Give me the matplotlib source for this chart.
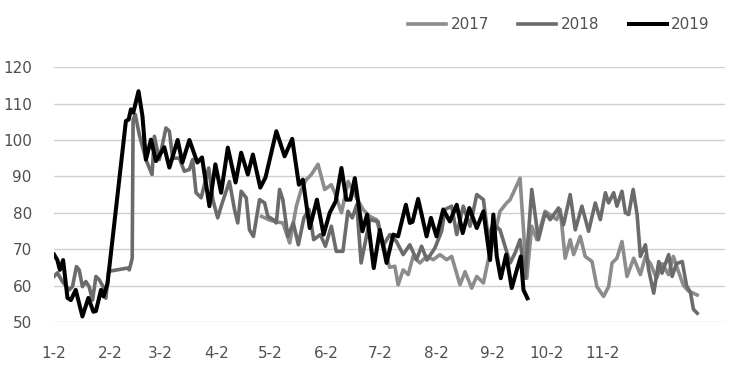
import numpy as np
import matplotlib
matplotlib.use("Agg")
import matplotlib.pyplot as plt

plt.rcParams['font.family'] = ['Liberation Sans Narrow', 'DejaVu Sans']

# x = days counted from Jan 2, tick labels on the 2nd of every month
tick_days = [0, 31, 59, 90, 120, 151, 181, 212, 243, 273, 304]
tick_labels = ['1-2', '2-2', '3-2', '4-2', '5-2', '6-2', '7-2', '8-2', '9-2', '10-2', '11-2']

days_2017 = [115, 119.4, 123.2, 126.8, 130.6, 134.3, 137, 139.8, 142.6, 146.3, 150, 153.7, 155.6,
             159.3, 163, 167.6, 171.3, 175, 178.7, 182.2, 186, 188.9, 190.7, 193.5, 196.3, 199,
             202.8, 206.5, 210.2, 213.9, 217.6, 220.4, 225, 227.8, 231.5, 234.3, 238, 240.7,
             243.3, 247.2, 250.9, 252.8, 258.3, 262, 264.8, 267.6, 272.2, 278.7, 280.6, 283.3,
             286.1, 288, 291.7, 294.4, 298.2, 300.9, 304.6, 307.4, 309.3, 312, 314.8, 317.6,
             321.3, 325, 327.8, 330.6, 333.9, 337.2, 340.6, 343.3, 346, 348.9, 351.7, 356.5]
vals_2017 = [79, 78, 77.5, 77.2, 71.7, 81.8, 86.4, 89.1, 90.5, 93.3, 86.4, 87.7, 85.5,
             80, 88.6, 84.1, 80.9, 79, 78.1, 72, 65, 65.3, 60.2, 64.3, 63, 68,
             66.2, 68, 67.1, 68.5, 67.1, 68, 60.2, 63.8, 59.3, 62.5, 60.7, 67.1,
             72, 80.4, 82.7, 83.6, 89.5, 62, 76.3, 72.6, 80.4, 78.1, 80.9, 67.5,
             72.6, 68.5, 73.5, 68, 66.6, 59.7, 57, 59.7, 66.2, 67.5, 72.1, 62.5,
             67.5, 63, 68, 66, 62, 66, 63, 68, 64, 60, 58.5, 57.4]

days_2018 = [0, 1.8, 4.6, 8.3, 10.2, 12.4, 13.9, 15.7, 17.6, 19.4, 21.3, 23.2, 25, 27.2, 28.7,
             30.2, 40.7, 41.7, 43.3, 43.8, 45, 47.2, 50.9, 54.3, 55.6, 58.3, 62, 63.9, 65.7,
             69.4, 72.2, 75, 76.8, 78.7, 81.5, 85.7, 88, 90.7, 93.2, 97.2, 100, 101.8, 103.7,
             106.5, 108.3, 110.5, 113.9, 116.7, 118.5, 121.5, 123.2, 125, 126.8, 129.6, 132.6,
             135.4, 138.5, 141.3, 143.9, 147.6, 150.4, 153.7, 156.4, 160.1, 162.9, 165.3,
             167.8, 170.2, 175, 179.6, 182.2, 186.1, 189.8, 193.5, 197.2, 200.9, 203.7,
             206.7, 211.1, 214.8, 216.7, 220.4, 223.2, 226.8, 230.6, 234.3, 238, 240.7,
             243.3, 247.2, 250, 252.8, 255.6, 258.3, 261.1, 264.8, 268.5, 272.2, 275, 279.6,
             282.4, 286.1, 288.9, 292.6, 296.3, 300, 302.8, 305.6, 307.4, 310.2, 312, 314.8,
             316.7, 318.5, 321, 323.2, 325, 327.8, 329.6, 332.4, 335.2, 337, 340.7, 342.6,
             345, 348.2, 350.6, 352.8, 354.4, 356.5]
vals_2018 = [62.5, 63.5, 61.1, 58.8, 59.7, 65.2, 64.3, 59.7, 61.1, 59.7, 56, 62.5, 61.6, 59.7, 56.5,
             63.9, 64.8, 64.3, 67.5, 105.6, 107, 101.5, 94.6, 90.5, 101, 94.6, 103.3, 102.4, 95,
             95, 91.4, 91.9, 94.6, 85.5, 84.1, 92.3, 83.6, 78.6, 82.7, 88.6, 80.9, 77.2, 85.9,
             84.1, 75.3, 73.5, 83.6, 82.7, 79, 78.1, 77.2, 86.4, 83.6, 73.5, 77.2,
             71.2, 78.6, 80.9, 72.6, 74, 70.8, 76.3, 69.4, 69.4, 80.4, 78.6,
             82.2, 66.2, 78.1, 77.6, 70.8, 74, 72.1, 68.5, 71.2, 67.1, 70.8,
             67, 70.3, 74.9, 80.9, 81.8, 74, 81.8, 76.3, 85, 83.6, 73,
             77, 75.3, 70.8, 66.2, 69, 72.6, 62, 86.4, 72.6, 80, 78.1, 81.3,
             76.7, 85, 75.3, 81.8, 74.9, 82.7, 78.1, 85.5, 82.7, 85.5, 81.8, 85.9,
             80, 79.5, 86.4, 79.5, 68, 71.2, 64.3, 57.9, 66.6, 63.4, 68.5, 62.5,
             66, 66.6, 60, 58, 53.5, 52.4]

days_2019 = [0, 1.8, 3.2, 5, 7.4, 9.3, 12, 15.7, 19, 21.8, 23.2, 26, 27.4, 29.6, 39.8, 41.3,
             42.6, 43.9, 46.8, 49, 50.9, 53.7, 56.5, 61.1, 63.9, 68.5, 71.1, 75, 79.4, 82,
             86.1, 89.4, 92.6, 96.3, 100.6, 103.7, 107.4, 110.2, 114.3, 117.2, 123.2, 127.8,
             132, 135.7, 137.9, 141.7, 145.7, 149.4, 152.8, 156.1, 159.3, 162, 164.3, 166.7,
             170.9, 173.5, 177.2, 180.6, 184.3, 188, 190.7, 195, 197.2, 198.7, 201.8, 206.5,
             208.9, 212, 215.7, 219.4, 223.2, 226.5, 230.2, 234.3, 238, 241.7, 243.5, 245.4,
             247.6, 250.6, 253.7, 256.5, 258.7, 260.2, 262.4]
vals_2019 = [68.5, 67, 64.3, 67, 56.6, 56, 58.8, 51.5, 56.6, 52.8, 53, 58.8, 57, 60.5, 105.2, 105.6,
             108.4, 107.5, 113.4, 106.5, 94.6, 100.1, 94.2, 98, 92.4, 100, 93.8, 100, 93.8, 95.2,
             81.8, 93.3, 85.5, 97.9, 88.3, 96.5, 90.5, 96, 86.9, 89.7, 102.4, 95.5,
             100.3, 87.7, 89.1, 75.8, 83.6, 74, 80, 83.1, 92.3, 83.6, 83.6, 89.5,
             74.9, 79.5, 64.8, 75.3, 66.2, 74, 73.5, 82.2, 77.2, 77.5, 83.8, 73.5,
             78.6, 73.5, 80.9, 77.6, 82.2, 74.4, 81.3, 75.8, 80.4, 67, 79.5, 68,
             62, 68.5, 59.3, 64.3, 68, 58.8, 56.5]

fig = plt.figure(figsize=(7.31, 3.65), dpi=100)
ax = fig.add_axes([0.074, 0.118, 0.918, 0.698])

ax.plot(days_2017, vals_2017, color='#8c8c8c', lw=2.6, label='2017', solid_joinstyle='round')
ax.plot(days_2018, vals_2018, color='#6b6b6b', lw=2.6, label='2018', solid_joinstyle='round')
ax.plot(days_2019, vals_2019, color='#000000', lw=2.9, label='2019', solid_joinstyle='round')

ax.set_xlim(0, 372)
ax.set_ylim(50, 120)
ax.set_yticks(np.arange(50, 121, 10))
ax.set_xticks(tick_days)
ax.set_xticklabels(tick_labels)
ax.yaxis.grid(True, color='#d0d0d0', lw=1)
ax.set_axisbelow(True)
for s in ax.spines.values():
    s.set_visible(False)
ax.tick_params(length=0, labelsize=11, colors='#505050')
ax.tick_params(axis='x', pad=17)
ax.tick_params(axis='y', pad=16)

fig.legend(loc='upper right', bbox_to_anchor=(0.99, 0.99), ncol=3, frameon=False,
           fontsize=11, handlelength=2.5, handletextpad=0.3, columnspacing=1.9,
           labelcolor='#505050')

fig.savefig('out.png', dpi=100)
